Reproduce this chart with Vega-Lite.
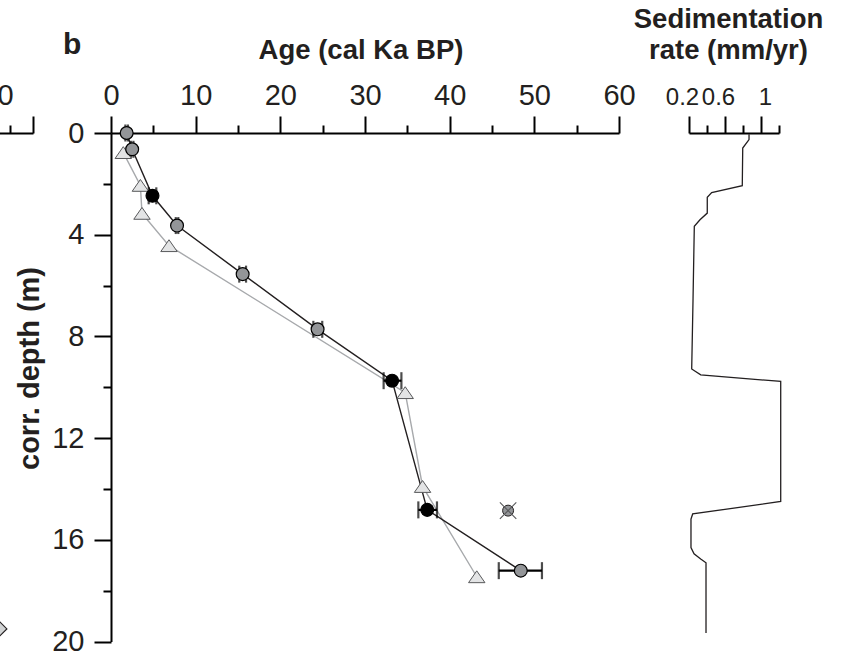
{
  "$schema": "https://vega.github.io/schema/vega-lite/v6.json",
  "width": 733,
  "height": 528,
  "autosize": {"type": "none"},
  "padding": {"left": 111, "top": 133, "right": 0, "bottom": 0},
  "background": "white",
  "config": {
    "view": {"stroke": null},
    "font": "Liberation Sans",
    "axis": {
      "grid": false,
      "labelFlush": false,
      "labelOverlap": false,
      "domainColor": "#000000",
      "domainWidth": 2,
      "tickColor": "#000000",
      "tickWidth": 2,
      "labelFont": "Liberation Sans",
      "labelFontSize": 29,
      "labelColor": "#231f20",
      "titleFont": "Liberation Sans",
      "titleFontSize": 27.5,
      "titleFontWeight": "bold",
      "titleColor": "#231f20"
    }
  },
  "title": {
    "text": "b",
    "anchor": "start",
    "frame": "group",
    "font": "Liberation Sans",
    "fontSize": 30,
    "fontWeight": "bold",
    "color": "#231f20",
    "baseline": "alphabetic",
    "offset": 0,
    "dx": -48,
    "dy": 79
  },
  "datasets": {
    "panelA": [{"val": 32.6, "depth": 19.5}],
    "dated": [
      {"age": 1.85, "depth": 0.0, "lo": 1.7, "hi": 2.0, "kind": "gray"},
      {"age": 2.5, "depth": 0.64, "lo": 2.35, "hi": 2.65, "kind": "gray"},
      {"age": 4.9, "depth": 2.47, "lo": 4.45, "hi": 5.35, "kind": "black"},
      {"age": 7.8, "depth": 3.64, "lo": 7.65, "hi": 7.95, "kind": "gray"},
      {"age": 15.55, "depth": 5.55, "lo": 15.15, "hi": 15.95, "kind": "gray"},
      {"age": 24.4, "depth": 7.72, "lo": 23.9, "hi": 24.95, "kind": "gray"},
      {"age": 33.2, "depth": 9.74, "lo": 32.2, "hi": 34.3, "kind": "black"},
      {"age": 37.35, "depth": 14.82, "lo": 36.3, "hi": 38.5, "kind": "black"},
      {"age": 48.4, "depth": 17.21, "lo": 45.8, "hi": 50.9, "kind": "gray"}
    ],
    "rejected": [{"age": 46.9, "depth": 14.85}],
    "modeled": [
      {"age": 1.45, "depth": 0.77},
      {"age": 3.47, "depth": 2.06},
      {"age": 3.66, "depth": 3.16},
      {"age": 6.85, "depth": 4.43},
      {"age": 34.75, "depth": 10.21},
      {"age": 36.8, "depth": 13.9},
      {"age": 43.2, "depth": 17.45}
    ],
    "sedrate": [
      {"depth": 0.05, "rate": 0.867},
      {"depth": 0.26, "rate": 0.867},
      {"depth": 0.59, "rate": 0.797},
      {"depth": 2.07, "rate": 0.792},
      {"depth": 2.34, "rate": 0.452},
      {"depth": 2.53, "rate": 0.403},
      {"depth": 3.15, "rate": 0.403},
      {"depth": 3.41, "rate": 0.322},
      {"depth": 3.67, "rate": 0.259},
      {"depth": 6.5, "rate": 0.245},
      {"depth": 9.28, "rate": 0.23},
      {"depth": 9.51, "rate": 0.33},
      {"depth": 9.77, "rate": 1.219},
      {"depth": 14.49, "rate": 1.219},
      {"depth": 14.98, "rate": 0.241},
      {"depth": 15.18, "rate": 0.222},
      {"depth": 16.3, "rate": 0.222},
      {"depth": 16.55, "rate": 0.256},
      {"depth": 16.75, "rate": 0.33},
      {"depth": 16.9, "rate": 0.389},
      {"depth": 19.66, "rate": 0.389}
    ]
  },
  "encoding": {
    "y": {
      "field": "depth",
      "type": "quantitative",
      "scale": {"domain": [0, 20], "range": [0, 508.6], "nice": false, "zero": false},
      "axis": {
        "orient": "left",
        "values": [0, 2, 4, 6, 8, 10, 12, 14, 16, 18, 20],
        "labelExpr": "datum.value % 4 === 0 ? datum.label : ''",
        "tickSize": {"condition": {"test": "datum.value % 4 !== 0", "value": 8}, "value": 17},
        "labelPadding": 10,
        "title": "corr. depth (m)",
        "titleFontSize": 29,
        "titleAngle": -90,
        "titleAlign": "center",
        "titleBaseline": "alphabetic",
        "titleX": -73,
        "titleY": 235
      }
    }
  },
  "layer": [
    {
      "data": {"name": "panelA"},
      "mark": {"type": "point", "shape": "diamond", "filled": true, "size": 250, "fill": "#d1d3d4", "stroke": "#231f20", "strokeWidth": 1.2, "opacity": 1},
      "encoding": {
        "x": {
          "field": "val",
          "type": "quantitative",
          "scale": {"domain": [0, 40], "range": [-262, -78], "nice": false, "zero": false},
          "axis": {
            "orient": "top",
            "values": [30, 35, 40],
            "labelExpr": "datum.value === 30 ? datum.label : ''",
            "tickSize": {"condition": {"test": "datum.value === 35", "value": 8}, "value": 17},
            "labelOffset": 10,
            "labelBaseline": "alphabetic",
            "labelPadding": 12,
            "title": null
          }
        }
      }
    },
    {
      "layer": [
        {
          "data": {"name": "modeled"},
          "mark": {"type": "line", "color": "#a7a9ac", "strokeWidth": 1.4},
          "encoding": {
            "x": {
              "field": "age", "type": "quantitative",
              "scale": {"domain": [0, 60], "range": [0, 508], "nice": false, "zero": false},
              "axis": {
                "orient": "top",
                "values": [0, 5, 10, 15, 20, 25, 30, 35, 40, 45, 50, 55, 60],
                "labelExpr": "datum.value % 10 === 0 ? datum.label : ''",
                "tickSize": {"condition": {"test": "datum.value % 10 !== 0", "value": 8}, "value": 17},
                "labelBaseline": "alphabetic",
                "labelPadding": 12,
                "title": "Age (cal Ka BP)",
                "titleAlign": "center",
                "titleBaseline": "alphabetic",
                "titleX": 249.5,
                "titleY": -74.5
              }
            },
            "order": {"field": "depth"}
          }
        },
        {
          "data": {"name": "dated"},
          "mark": {"type": "line", "color": "#231f20", "strokeWidth": 1.4},
          "encoding": {
            "x": {
              "field": "age", "type": "quantitative",
              "scale": {"domain": [0, 60], "range": [0, 508], "nice": false, "zero": false},
              "axis": {
                "orient": "top",
                "values": [0, 5, 10, 15, 20, 25, 30, 35, 40, 45, 50, 55, 60],
                "labelExpr": "datum.value % 10 === 0 ? datum.label : ''",
                "tickSize": {"condition": {"test": "datum.value % 10 !== 0", "value": 8}, "value": 17},
                "labelBaseline": "alphabetic",
                "labelPadding": 12,
                "title": "Age (cal Ka BP)",
                "titleAlign": "center",
                "titleBaseline": "alphabetic",
                "titleX": 249.5,
                "titleY": -74.5
              }
            },
            "order": {"field": "depth"}
          }
        },
        {
          "data": {"name": "dated"},
          "mark": {"type": "errorbar", "ticks": true, "size": 17, "thickness": 2.2, "color": "#000000"},
          "encoding": {
            "x": {
              "field": "lo", "type": "quantitative",
              "scale": {"domain": [0, 60], "range": [0, 508], "nice": false, "zero": false},
              "axis": {
                "orient": "top",
                "values": [0, 5, 10, 15, 20, 25, 30, 35, 40, 45, 50, 55, 60],
                "labelExpr": "datum.value % 10 === 0 ? datum.label : ''",
                "tickSize": {"condition": {"test": "datum.value % 10 !== 0", "value": 8}, "value": 17},
                "labelBaseline": "alphabetic",
                "labelPadding": 12,
                "title": "Age (cal Ka BP)",
                "titleAlign": "center",
                "titleBaseline": "alphabetic",
                "titleX": 249.5,
                "titleY": -74.5
              }
            },
            "x2": {"field": "hi"}
          }
        },
        {
          "data": {"name": "modeled"},
          "mark": {"type": "point", "shape": "M0,-0.72L1,0.72L-1,0.72Z", "filled": true, "size": 270, "fill": "#e3e4e5", "stroke": "#58595b", "strokeWidth": 1, "opacity": 1},
          "encoding": {
            "x": {
              "field": "age", "type": "quantitative",
              "scale": {"domain": [0, 60], "range": [0, 508], "nice": false, "zero": false},
              "axis": {
                "orient": "top",
                "values": [0, 5, 10, 15, 20, 25, 30, 35, 40, 45, 50, 55, 60],
                "labelExpr": "datum.value % 10 === 0 ? datum.label : ''",
                "tickSize": {"condition": {"test": "datum.value % 10 !== 0", "value": 8}, "value": 17},
                "labelBaseline": "alphabetic",
                "labelPadding": 12,
                "title": "Age (cal Ka BP)",
                "titleAlign": "center",
                "titleBaseline": "alphabetic",
                "titleX": 249.5,
                "titleY": -74.5
              }
            }
          }
        },
        {
          "data": {"name": "dated"},
          "mark": {"type": "point", "shape": "circle", "filled": true, "size": 165, "stroke": "#000000", "strokeWidth": 1.2, "opacity": 1},
          "encoding": {
            "x": {
              "field": "age", "type": "quantitative",
              "scale": {"domain": [0, 60], "range": [0, 508], "nice": false, "zero": false},
              "axis": {
                "orient": "top",
                "values": [0, 5, 10, 15, 20, 25, 30, 35, 40, 45, 50, 55, 60],
                "labelExpr": "datum.value % 10 === 0 ? datum.label : ''",
                "tickSize": {"condition": {"test": "datum.value % 10 !== 0", "value": 8}, "value": 17},
                "labelBaseline": "alphabetic",
                "labelPadding": 12,
                "title": "Age (cal Ka BP)",
                "titleAlign": "center",
                "titleBaseline": "alphabetic",
                "titleX": 249.5,
                "titleY": -74.5
              }
            },
            "fill": {
              "field": "kind", "type": "nominal",
              "scale": {"domain": ["gray", "black"], "range": ["#939598", "#000000"]},
              "legend": null
            }
          }
        },
        {
          "data": {"name": "rejected"},
          "mark": {"type": "point", "shape": "circle", "filled": true, "size": 120, "fill": "#939598", "stroke": "#231f20", "strokeWidth": 1, "opacity": 1},
          "encoding": {
            "x": {
              "field": "age", "type": "quantitative",
              "scale": {"domain": [0, 60], "range": [0, 508], "nice": false, "zero": false},
              "axis": {
                "orient": "top",
                "values": [0, 5, 10, 15, 20, 25, 30, 35, 40, 45, 50, 55, 60],
                "labelExpr": "datum.value % 10 === 0 ? datum.label : ''",
                "tickSize": {"condition": {"test": "datum.value % 10 !== 0", "value": 8}, "value": 17},
                "labelBaseline": "alphabetic",
                "labelPadding": 12,
                "title": "Age (cal Ka BP)",
                "titleAlign": "center",
                "titleBaseline": "alphabetic",
                "titleX": 249.5,
                "titleY": -74.5
              }
            }
          }
        },
        {
          "data": {"name": "rejected"},
          "mark": {"type": "point", "shape": "M-1,-1L1,1M-1,1L1,-1", "filled": false, "size": 270, "stroke": "#58595b", "strokeWidth": 1.1, "opacity": 1},
          "encoding": {
            "x": {
              "field": "age", "type": "quantitative",
              "scale": {"domain": [0, 60], "range": [0, 508], "nice": false, "zero": false},
              "axis": {
                "orient": "top",
                "values": [0, 5, 10, 15, 20, 25, 30, 35, 40, 45, 50, 55, 60],
                "labelExpr": "datum.value % 10 === 0 ? datum.label : ''",
                "tickSize": {"condition": {"test": "datum.value % 10 !== 0", "value": 8}, "value": 17},
                "labelBaseline": "alphabetic",
                "labelPadding": 12,
                "title": "Age (cal Ka BP)",
                "titleAlign": "center",
                "titleBaseline": "alphabetic",
                "titleX": 249.5,
                "titleY": -74.5
              }
            }
          }
        }
      ]
    },
    {
      "data": {"name": "sedrate"},
      "mark": {"type": "line", "color": "#231f20", "strokeWidth": 1.3},
      "encoding": {
        "x": {
          "field": "rate",
          "type": "quantitative",
          "scale": {"domain": [0.2, 1.2], "range": [578, 668], "nice": false, "zero": false},
          "axis": {
            "orient": "top",
            "values": [0.2, 0.4, 0.6, 0.8, 1, 1.2],
            "format": ".1~f",
            "labelFontSize": 24,
            "labelExpr": "(abs(datum.value - 0.2) < 0.01 || abs(datum.value - 0.6) < 0.01 || abs(datum.value - 1) < 0.01) ? datum.label : ''",
            "labelOffset": {"condition": {"test": "datum.value > 0.9", "value": 4}, "value": -7},
            "tickSize": {"condition": {"test": "abs(datum.value - 0.4) < 0.01 || abs(datum.value - 0.8) < 0.01 || abs(datum.value - 1.2) < 0.01", "value": 8}, "value": 17},
            "labelBaseline": "alphabetic",
            "labelPadding": 12,
            "title": ["Sedimentation", "rate (mm/yr)"],
            "titleLineHeight": 31,
            "titleAlign": "center",
            "titleBaseline": "alphabetic",
            "titleX": 617,
            "titleY": -106
          }
        },
        "order": {"field": "depth"}
      }
    }
  ],
  "resolve": {"scale": {"x": "independent"}, "axis": {"x": "independent"}}
}
